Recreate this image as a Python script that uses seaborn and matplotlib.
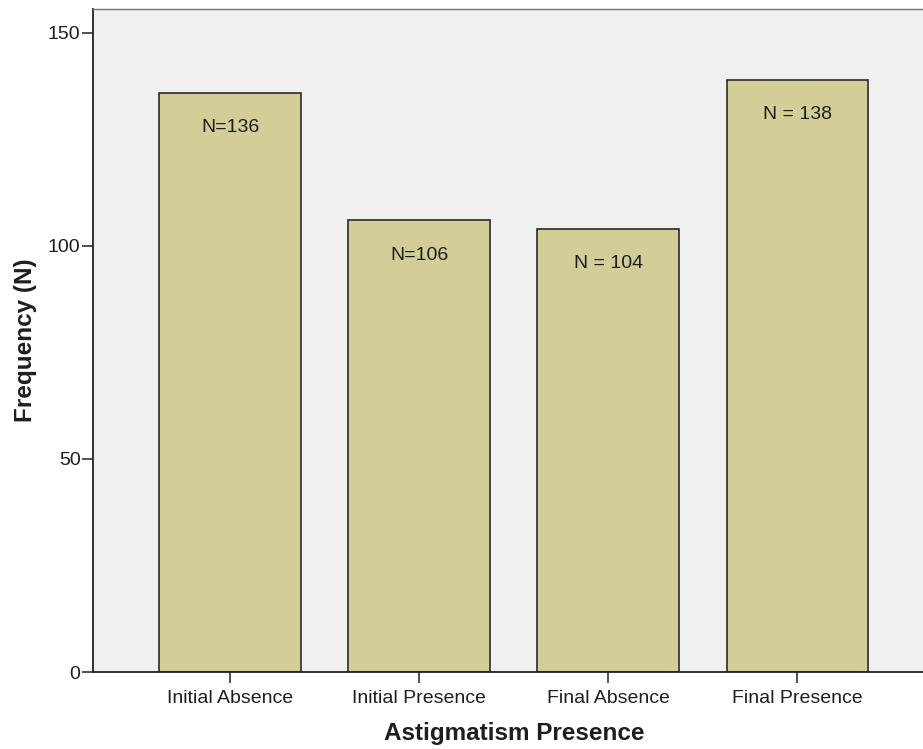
import matplotlib.pyplot as plt
import seaborn as sns
import pandas as pd

# data
categories = ["Initial Absence", "Initial Presence", "Final Absence", "Final Presence"]
frequency = [136, 106, 104, 139]
bar_labels = ["N=136", "N=106", "N = 104", "N = 138"]

BG = "#F0F0F0"
BAR = "#D3CE98"
EDGE = "#2B2B2B"
TEXT = "#1E1E1E"

sns.set_theme(style="white")
plt.rcParams["font.family"] = ["Liberation Sans", "DejaVu Sans"]

df = pd.DataFrame({"category": categories, "frequency": frequency})

fig = plt.figure(figsize=(9.23, 7.49), dpi=100)
fig.patch.set_facecolor("white")
ax = fig.add_axes([0.1008, 0.1028, 0.9117, 0.8852])
ax.set_facecolor(BG)

sns.barplot(data=df, x="category", y="frequency", color=BAR,
            edgecolor=EDGE, linewidth=1.2, width=0.75, saturation=1, ax=ax)

for i, (v, lab) in enumerate(zip(frequency, bar_labels)):
    ax.annotate(lab, xy=(i, v), xytext=(0, -25), textcoords="offset points",
                ha="center", va="center", fontsize=14, color=TEXT)

ax.set_xlim(-0.725, 3.725)
ax.set_ylim(0, 155.6)
ax.set_yticks([0, 50, 100, 150])

ax.set_xlabel("Astigmatism Presence", fontsize=17.5, fontweight="bold",
              color=TEXT, labelpad=11)
ax.set_ylabel("Frequency (N)", fontsize=17.5, fontweight="bold",
              color=TEXT, labelpad=8)

ax.tick_params(axis="both", which="major", direction="out", length=8,
               width=1.2, color="#333333", labelsize=14, labelcolor=TEXT,
               bottom=True, left=True, pad=1)
ax.tick_params(axis="x", length=8, pad=5)

for side in ["left", "bottom"]:
    ax.spines[side].set_color("#222222")
    ax.spines[side].set_linewidth(1.3)
ax.spines["top"].set_color("#777777")
ax.spines["top"].set_linewidth(1.0)
ax.spines["right"].set_visible(False)

fig.savefig("out.png", dpi=100)
